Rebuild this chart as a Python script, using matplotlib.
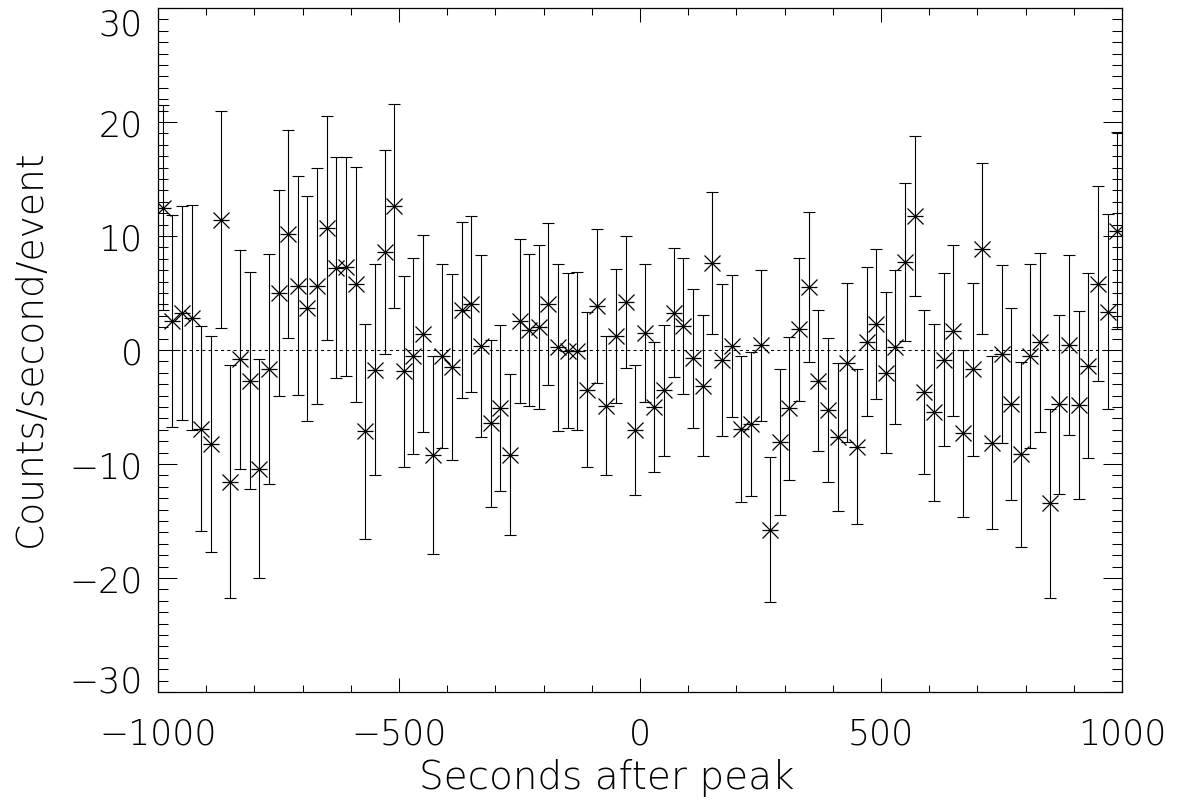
import matplotlib
matplotlib.use('Agg')
import matplotlib.pyplot as plt
from matplotlib import font_manager
from matplotlib.ticker import MultipleLocator

# bin centres (seconds after peak), 20 s bins
seconds = [-990, -970, -950, -930, -910, -890, -870, -850, -830, -810,
           -790, -770, -750, -730, -710, -690, -670, -650, -630, -610,
           -590, -570, -550, -530, -510, -490, -470, -450, -430, -410,
           -390, -370, -350, -330, -310, -290, -270, -250, -230, -210,
           -190, -170, -150, -130, -110, -90, -70, -50, -30, -10,
           10, 30, 50, 70, 90, 110, 130, 150, 170, 190,
           210, 230, 250, 270, 290, 310, 330, 350, 370, 390,
           410, 430, 450, 470, 490, 510, 530, 550, 570, 590,
           610, 630, 650, 670, 690, 710, 730, 750, 770, 790,
           810, 830, 850, 870, 890, 910, 930, 950, 970, 990]

# counts/second/event
rate = [12.5, 2.55, 3.25, 2.85, -6.9, -8.25, 11.43, -11.55, -0.8, -2.7,
        -10.4, -1.67, 5.0, 10.17, 5.65, 3.65, 5.6, 10.7, 7.23, 7.3,
        5.78, -7.14, -1.72, 8.62, 12.63, -1.87, -0.54, 1.43, -9.2, -0.52,
        -1.46, 3.5, 4.05, 0.37, -6.42, -5.05, -9.18, 2.55, 1.73, 2.04,
        4.06, 0.22, -0.06, -0.06, -3.5, 3.88, -4.87, 1.24, 4.22, -7.0,
        1.53, -5.02, -3.55, 3.28, 2.11, -0.73, -3.15, 7.63, -0.87, 0.32,
        -6.92, -6.5, 0.42, -15.75, -8.1, -5.12, 1.8, 5.54, -2.7, -5.25,
        -7.6, -1.1, -8.48, 0.73, 2.3, -1.99, 0.24, 7.73, 11.75, -3.72,
        -5.48, -0.84, 1.71, -7.32, -1.71, 8.9, -8.14, -0.36, -4.76, -9.15,
        -0.51, 0.67, -13.45, -4.78, 0.45, -4.8, -1.37, 5.82, 3.34, 10.45]

# 1-sigma errors
rate_err = [9.0, 9.3, 9.4, 9.85, 9.0, 9.45, 9.5, 10.2, 9.6, 9.5,
            9.6, 10.05, 9.06, 9.1, 9.6, 9.84, 10.37, 9.86, 9.7, 9.6,
            10.3, 9.4, 9.25, 8.96, 8.97, 8.36, 8.6, 8.64, 8.7, 8.04,
            8.17, 7.7, 7.7, 7.98, 7.33, 7.28, 7.05, 7.2, 6.67, 7.2,
            7.1, 7.35, 6.8, 6.93, 6.8, 6.74, 6.07, 5.85, 5.82, 5.7,
            6.05, 5.7, 5.76, 5.66, 6.0, 6.1, 6.18, 6.26, 6.7, 6.22,
            6.4, 6.3, 6.64, 6.36, 6.4, 6.24, 6.29, 6.6, 6.17, 6.3,
            6.5, 7.0, 6.8, 6.52, 6.58, 7.07, 6.74, 6.9, 6.98, 7.2,
            7.8, 7.56, 7.5, 7.3, 7.6, 7.5, 7.6, 7.78, 8.43, 8.1,
            8.07, 7.83, 8.3, 7.88, 7.92, 8.23, 8.1, 8.55, 8.55, 8.65]


def pick_thin_font():
    # look for a thin sans to stand in for the IDL Hershey font
    files = [f.fname for f in font_manager.fontManager.ttflist]
    wanted = [('DejaVuSans-ExtraLight', 'DejaVu Sans', 200),
              ('OpenSans-Light', 'Open Sans', 300),
              ('Roboto-Light', 'Roboto', 300),
              ('Lato-Light', 'Lato', 300)]
    for key, name, weight in wanted:
        for fn in files:
            if key in fn:
                return name, weight
    return 'DejaVu Sans', 'normal'


font_name, font_weight = pick_thin_font()
plt.rcParams['font.family'] = [font_name, 'DejaVu Sans']
plt.rcParams['font.weight'] = font_weight
plt.rcParams['axes.labelweight'] = font_weight

fig = plt.figure(figsize=(11.8, 8.04), dpi=100)
ax = fig.add_axes([158 / 1180, 1 - 693 / 804, 964 / 1180, 684 / 804])

# zero line
ax.plot([-1000, 1000], [0, 0], color='black', lw=0.75, dashes=(3, 3))

# error bars + IDL-style asterisks
ax.errorbar(seconds, rate, yerr=rate_err, fmt='none', ecolor='black',
            elinewidth=0.8, capsize=4.5, capthick=0.8)
ax.plot(seconds, rate, 'x', color='black', ms=11.5, mew=0.9)
ax.plot(seconds, rate, '_', color='black', ms=11, mew=0.9)

ax.set_xlim(-1000, 1000)
ax.set_ylim(-30, 30)
ax.xaxis.set_major_locator(MultipleLocator(500))
ax.xaxis.set_minor_locator(MultipleLocator(100))
ax.yaxis.set_major_locator(MultipleLocator(10))
ax.yaxis.set_minor_locator(MultipleLocator(1))

ax.tick_params(which='both', direction='in', top=True, right=True, width=0.75)
ax.tick_params(axis='x', which='major', length=9.9, pad=18, labelsize=25)
ax.tick_params(axis='x', which='minor', length=4.9)
ax.tick_params(axis='y', which='major', length=13.9, pad=11, labelsize=25)
ax.tick_params(axis='y', which='minor', length=6.9)
for sp in ax.spines.values():
    sp.set_linewidth(0.9)

ax.set_xticks([-1000, -500, 0, 500, 1000])
ax.set_xticklabels(['\u22121000', '\u2212500', '0', '500', '1000'])
ax.set_yticks([-30, -20, -10, 0, 10, 20, 30])
ylabs = ax.set_yticklabels(['\u221230', '\u221220', '\u221210', '0', '10', '20', '30'])
# end labels sit inside the box like in IDL
ylabs[-1].set_va('top')
ylabs[0].set_va('baseline')

ax.set_xlabel('Seconds after peak', fontsize=28)
ax.set_ylabel('Counts/second/event', fontsize=27)
ax.xaxis.set_label_coords((607 - 158) / 964, (693 - 778) / 684)
ax.xaxis.label.set_va('center')
ax.yaxis.set_label_coords((30 - 158) / 964, (693 - 348) / 684)
ax.yaxis.label.set_va('center')

fig.savefig('out.png', dpi=100)
